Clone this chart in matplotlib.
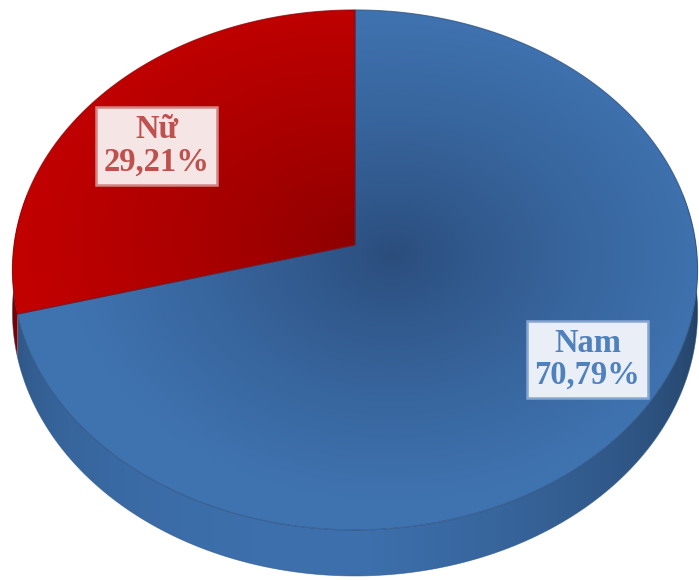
import numpy as np
import matplotlib.pyplot as plt
from matplotlib.patches import Polygon
from matplotlib.colors import to_rgb

# gender split
labels = ['Nam', 'Nữ']
shares = [70.79, 29.21]

face_light = ['#3f73b0', '#c10000']
face_dark = ['#2a4c7b', '#8c0000']
side_base = ['#3d70ad', '#a80000']
text_colors = ['#4f81bd', '#c0504d']
box_faces = ['#eaeff7', '#f5e5e5']
box_edges = ['#86a5d1', '#d38585']
label_xy = [(587.5, 359.5), (156.5, 146)]

W, H = 699, 580
cx, cy = 355, 245          # where the slices meet
rx, ry = 341, 257.6        # disk radii on screen
k = 0.096                  # perspective strength
depth = 41.6               # thickness of the disk


def proj(t, r=1.0, drop=0.0):
    X = r * np.cos(t)
    Z = r * np.sin(t)
    w = 1 + k * Z
    return cx + rx * X / w, cy - ry * Z / w + drop / w


def face_gradient(light, dark, px, py, spread=0.95):
    yy, xx = np.mgrid[0:H, 0:W] + 0.5
    d = np.sqrt(((xx - px) / rx) ** 2 + ((yy - py) / ry) ** 2)
    f = np.clip(d / spread, 0, 1) ** 0.8
    lo = np.array(to_rgb(dark))
    hi = np.array(to_rgb(light))
    return lo + (hi - lo) * f[..., None]


def wall_gradient(base):
    xx = np.arange(W) + 0.5
    X = np.clip((xx - cx) / (rx * 1.003), -1, 1)
    t = 2 * np.pi - np.arccos(X)
    s = np.maximum(0.0, -np.sin(t)) ** 0.5
    bright = (0.62 + 0.38 * s) * (1 - 0.2 * np.maximum(0.0, np.cos(t)))
    row = np.clip(np.array(to_rgb(base))[None, :] * bright[:, None], 0, 1)
    return np.repeat(row[None, :, :], H, axis=0)


fig = plt.figure(figsize=(W / 100, H / 100), dpi=100)
ax = fig.add_axes([0, 0, 1, 1])
ax.set_xlim(0, W)
ax.set_ylim(H, 0)
ax.axis('off')

# slices go counter-clockwise from 12 o'clock: Nữ first, then Nam
total = sum(shares)
spans = {}
start = np.pi / 2
for i in [1, 0]:
    end = start + shares[i] / total * 2 * np.pi
    spans[i] = (start, end)
    start = end

# outer wall, only the part that faces the viewer
lo_t, hi_t = np.pi - 0.2, 2 * np.pi + 0.2
for i in [0, 1]:
    t0, t1 = spans[i]
    a, b = max(t0, lo_t), min(t1, hi_t)
    if a >= b:
        continue
    ts = np.linspace(a, b, 400)
    ux, uy = proj(ts)
    dx, dy = proj(ts, drop=depth)
    pts = np.column_stack([np.r_[ux, dx[::-1]], np.r_[uy, dy[::-1]]])
    wall = Polygon(pts, closed=True, facecolor='none', edgecolor='none')
    ax.add_patch(wall)
    im = ax.imshow(wall_gradient(side_base[i]), extent=[0, W, H, 0],
                   interpolation='bilinear', zorder=0.5)
    im.set_clip_path(wall)

# rim line along the bottom
tb = np.linspace(np.pi, 2 * np.pi, 300)
bx, by = proj(tb, drop=depth)
ax.plot(bx, by, color='#2f5686', lw=0.6, alpha=0.6)

# top faces with lighting gradient
dark_spots = [(392, 255), (352, 238)]
for i in [0, 1]:
    t0, t1 = spans[i]
    ts = np.linspace(t0, t1, 500)
    ex, ey = proj(ts)
    pts = np.column_stack([np.r_[cx, ex], np.r_[cy, ey]])
    patch = Polygon(pts, closed=True, facecolor='none', edgecolor='none')
    ax.add_patch(patch)
    img = face_gradient(face_light[i], face_dark[i], *dark_spots[i])
    im = ax.imshow(img, extent=[0, W, H, 0], interpolation='bilinear', zorder=1)
    im.set_clip_path(patch)
    edge = Polygon(pts, closed=True, facecolor='none',
                   edgecolor=face_dark[i], lw=0.8, alpha=0.7, zorder=2)
    ax.add_patch(edge)

# data labels
for i in [0, 1]:
    x, y = label_xy[i]
    ax.text(x, y, f'{labels[i]}\n{shares[i]:.2f}%'.replace('.', ','),
            ha='center', va='center', fontsize=23.5, fontweight='bold',
            family=['Liberation Serif', 'DejaVu Serif'],
            color=text_colors[i], linespacing=1.05, zorder=5,
            bbox=dict(boxstyle='square,pad=0.22', fc=box_faces[i],
                      ec=box_edges[i], lw=1.8))

fig.savefig('out.png', dpi=100)
